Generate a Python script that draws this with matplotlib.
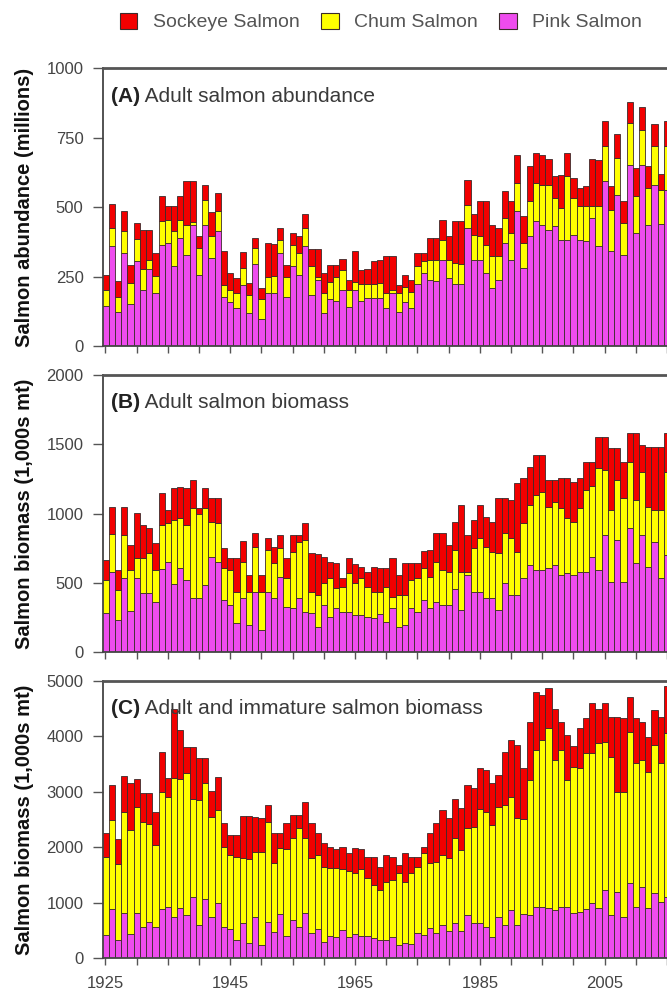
import matplotlib
matplotlib.use("Agg")
import matplotlib.pyplot as plt
from matplotlib.patches import Patch
import numpy as np

plt.rcParams['font.family'] = ['Liberation Sans', 'DejaVu Sans']

years = list(range(1925, 2016))

# Panel A: adult salmon abundance (millions)
abund_pink = [144, 358, 124, 336, 150, 306, 202, 276, 190, 364, 372, 286, 388, 328, 436, 256, 436, 315, 412, 175,
              160, 136, 220, 118, 295, 96, 192, 190, 334, 175, 288, 256, 358, 184, 238, 118, 168, 163, 202, 142,
              202, 163, 172, 172, 172, 136, 190, 124, 160, 136, 223, 262, 238, 235, 310, 244, 223, 223, 424, 310,
              310, 262, 208, 238, 370, 310, 484, 280, 394, 448, 436, 418, 430, 382, 382, 400, 382, 376, 460, 358,
              592, 340, 544, 328, 652, 406, 652, 436, 580, 440, 560]
abund_chum = [58, 68, 54, 76, 78, 78, 75, 34, 62, 84, 82, 129, 66, 108, 9, 96, 90, 79, 72, 45,
              40, 54, 60, 66, 57, 72, 58, 62, 48, 75, 76, 78, 66, 102, 12, 72, 64, 87, 72, 60,
              30, 60, 51, 51, 56, 54, 12, 66, 54, 60, 63, 42, 72, 75, 72, 66, 75, 72, 84, 90,
              84, 102, 114, 84, 90, 96, 102, 90, 126, 138, 144, 162, 102, 114, 228, 132, 120, 126, 42, 144,
              128, 150, 132, 114, 150, 132, 124, 132, 140, 120, 160]
abund_sockeye = [54, 85, 57, 75, 64, 58, 141, 108, 82, 90, 48, 87, 84, 159, 150, 44, 54, 89, 66, 123,
                 62, 54, 57, 44, 36, 40, 120, 116, 42, 42, 42, 60, 51, 62, 98, 72, 60, 40, 39, 36,
                 108, 51, 53, 81, 82, 132, 120, 30, 42, 42, 50, 30, 78, 78, 72, 84, 150, 153, 88, 75,
                 126, 156, 114, 102, 96, 114, 102, 96, 128, 108, 108, 92, 78, 120, 86, 72, 66, 72, 170, 168,
                 90, 84, 88, 78, 74, 102, 84, 78, 78, 60, 90]

# Panel B: adult salmon biomass (1,000s mt)
bio_pink = [279, 580, 231, 532, 296, 532, 424, 424, 359, 599, 652, 489, 604, 520, 387, 387, 484, 688, 652, 375,
            339, 207, 387, 195, 436, 159, 436, 387, 544, 327, 315, 387, 291, 279, 183, 339, 255, 315, 291, 291,
            267, 267, 255, 243, 272, 219, 315, 183, 195, 315, 291, 375, 315, 359, 339, 339, 455, 303, 556, 436,
            436, 387, 387, 303, 496, 412, 412, 532, 628, 592, 592, 604, 628, 556, 568, 556, 580, 580, 688, 592,
            845, 508, 809, 508, 893, 640, 845, 616, 797, 532, 700]
bio_chum = [241, 270, 217, 313, 296, 144, 252, 288, 233, 318, 277, 464, 361, 397, 650, 613, 553, 253, 277, 229,
            253, 229, 265, 241, 325, 277, 301, 253, 205, 205, 409, 410, 518, 157, 229, 157, 277, 145, 181, 277,
            229, 265, 217, 193, 164, 253, 85, 229, 217, 205, 241, 229, 229, 293, 253, 241, 282, 277, 24, 313,
            385, 374, 337, 409, 361, 409, 312, 397, 433, 542, 566, 445, 458, 481, 397, 385, 457, 590, 512, 734,
            469, 517, 433, 602, 481, 458, 457, 433, 228, 493, 602]
bio_sockeye = [144, 199, 144, 204, 181, 325, 241, 181, 193, 229, 96, 234, 229, 270, 205, 40, 145, 169, 181, 145,
               89, 245, 149, 120, 96, 120, 89, 120, 96, 144, 121, 48, 120, 276, 293, 192, 120, 180, 60, 113,
               137, 84, 108, 180, 168, 132, 276, 144, 228, 120, 108, 125, 192, 205, 265, 193, 204, 481, 265, 204,
               240, 216, 217, 398, 253, 277, 494, 325, 277, 289, 265, 193, 156, 217, 289, 289, 217, 204, 174, 229,
               241, 446, 229, 264, 205, 481, 193, 434, 458, 458, 277]

# Panel C: adult and immature salmon biomass (1,000s mt)
tot_pink = [415, 878, 325, 806, 433, 806, 566, 656, 554, 878, 927, 734, 897, 776, 1095, 596, 1059, 734, 987, 566,
            517, 325, 626, 277, 734, 235, 656, 475, 794, 397, 686, 566, 806, 445, 517, 295, 397, 373, 505, 385,
            433, 397, 397, 355, 325, 325, 385, 235, 277, 253, 445, 415, 536, 457, 596, 493, 626, 493, 776, 626,
            626, 566, 385, 746, 596, 866, 596, 794, 776, 927, 915, 897, 866, 915, 927, 806, 836, 878, 987, 897,
            1227, 776, 1197, 746, 1348, 927, 1288, 897, 1167, 1017, 1100]
tot_chum = [1414, 1613, 1372, 1835, 1877, 1926, 1895, 1763, 1486, 2124, 1985, 2509, 2328, 2557, 1769, 2256, 2106, 1805, 1685, 1444,
            1342, 1504, 1173, 1504, 1185, 1684, 1805, 1246, 1186, 1565, 1474, 1775, 1354, 1354, 1342, 1342, 1222, 1246, 1096, 1192,
            1107, 1204, 1041, 963, 902, 1053, 1023, 1293, 1101, 1275, 1204, 1474, 1173, 1282, 1263, 1306, 1534, 1456, 1565, 1745,
            2058, 2075, 2016, 1986, 2166, 2046, 1925, 1709, 2437, 2827, 3020, 3249, 2708, 2839, 2286, 2648, 2588, 2816, 2707, 2978,
            2678, 2858, 1805, 2256, 2738, 2587, 2286, 2466, 2678, 2497, 2955]
tot_sockeye = [433, 632, 445, 644, 843, 493, 523, 553, 601, 723, 331, 1246, 891, 470, 939, 752, 439, 481, 589, 421,
               361, 391, 764, 782, 620, 602, 301, 541, 282, 469, 421, 240, 662, 632, 403, 445, 391, 343, 397, 312,
               440, 361, 379, 499, 422, 481, 421, 151, 511, 301, 180, 121, 541, 704, 812, 722, 704, 753, 782, 691,
               740, 753, 752, 571, 963, 1023, 1324, 921, 1053, 1054, 812, 722, 915, 512, 812, 373, 722, 632, 903, 614,
               704, 722, 1354, 1324, 631, 812, 692, 632, 632, 842, 855]

species_labels = ["Sockeye Salmon", "Chum Salmon", "Pink Salmon"]
panel_letters = ["(A)", "(B)", "(C)"]
panel_titles = [" Adult salmon abundance", " Adult salmon biomass", " Adult and immature salmon biomass"]
ylabels = ["Salmon abundance (millions)", "Salmon biomass (1,000s mt)", "Salmon biomass (1,000s mt)"]
yticks_list = [[0, 250, 500, 750, 1000], [0, 500, 1000, 1500, 2000], [0, 1000, 2000, 3000, 4000, 5000]]
xtick_years = list(range(1925, 2016, 5))
xlabel_years = [1925, 1945, 1965, 1985, 2005]

c_sock = "#F20000"
c_chum = "#FFFF00"
c_pink = "#EE4CEE"
edge = "#3b2b2b"
tick_col = "#444444"

W, H = 667, 992
fig = plt.figure(figsize=(W / 100, H / 100), dpi=100)

# axes pixel boxes (top, bottom)
boxes = [(68, 346), (375, 652), (681, 958)]
left_px = 103
x0, x1 = 1924.6, 2016.5
px_per_year = 6.24
width_px = (x1 - x0) * px_per_year

data = [(abund_pink, abund_chum, abund_sockeye),
        (bio_pink, bio_chum, bio_sockeye),
        (tot_pink, tot_chum, tot_sockeye)]

for i, ((top, bot), (pk, ch, sk)) in enumerate(zip(boxes, data)):
    ax = fig.add_axes([left_px / W, 1 - bot / H, width_px / W, (bot - top) / H])
    yrs = np.array(years)
    pk = np.array(pk); ch = np.array(ch); sk = np.array(sk)
    kw = dict(width=1.0, edgecolor=edge, linewidth=0.6, align='center')
    ax.bar(yrs, pk, color=c_pink, **kw)
    ax.bar(yrs, ch, bottom=pk, color=c_chum, **kw)
    ax.bar(yrs, sk, bottom=pk + ch, color=c_sock, **kw)
    ax.set_xlim(x0, x1)
    yt = yticks_list[i]
    ax.set_ylim(0, yt[-1])
    ax.set_yticks(yt)
    ax.set_yticklabels([str(v) for v in yt], fontsize=12, color=tick_col)
    ax.set_xticks(xtick_years)
    if i == 2:
        ax.set_xticklabels([str(y) if y in xlabel_years else "" for y in xtick_years],
                           fontsize=12, color=tick_col)
    else:
        ax.set_xticklabels([])
    ax.tick_params(axis='y', direction='out', length=7, width=1, color="#555555", pad=7)
    ax.tick_params(axis='x', direction='out', length=5, width=1, color="#555555", pad=8)
    ax.spines['right'].set_visible(False)
    ax.spines['top'].set_color("#555555")
    ax.spines['top'].set_linewidth(2.0)
    ax.spines['left'].set_color("#444444")
    ax.spines['left'].set_linewidth(1.3)
    ax.spines['bottom'].set_color("#444444")
    ax.spines['bottom'].set_linewidth(1.3)
    ax.set_ylabel(ylabels[i], fontsize=14.5, fontweight='bold', color="#111111")
    ax.yaxis.set_label_coords((24 - left_px) / width_px, 0.5)
    ax.yaxis.label.set_va('center')
    t = ax.text(8 / width_px, 1 - 28 / (bot - top), panel_letters[i], transform=ax.transAxes,
                fontsize=15, fontweight='bold', color="#222222", va='center', ha='left')
    ax.annotate(panel_titles[i], xy=(1, 0), xycoords=t, va='bottom', ha='left',
                fontsize=15, color="#3a3a3a")

handles = [Patch(facecolor=c, edgecolor=edge, linewidth=0.8) for c in (c_sock, c_chum, c_pink)]
fig.legend(handles, species_labels, loc='center', bbox_to_anchor=(381 / W, 1 - 22 / H), ncol=3,
           frameon=False, fontsize=14, handlelength=0.9, handleheight=0.9, handletextpad=0.8,
           columnspacing=1.1, labelcolor="#555555")

fig.savefig("out.png", dpi=100)
